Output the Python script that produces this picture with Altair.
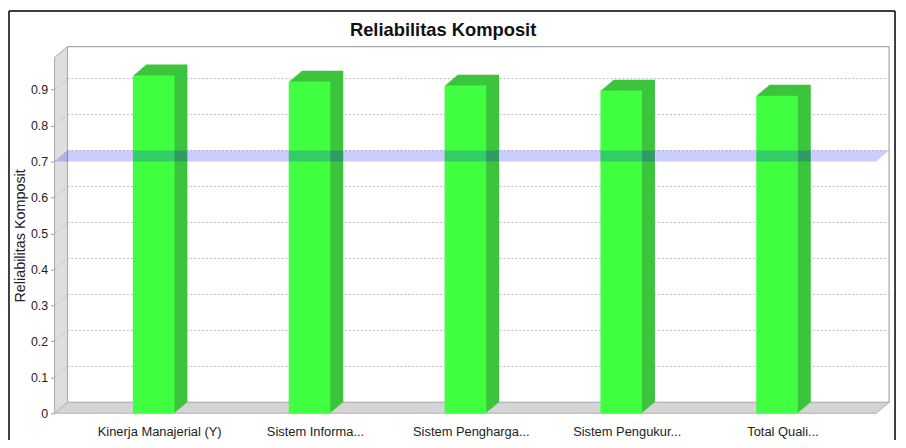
import altair as alt
import pandas as pd

# ---- data ----
categories = ["Kinerja Manajerial (Y)", "Sistem Informa...", "Sistem Pengharga...",
              "Sistem Pengukur...", "Total Quali..."]
values = [0.939, 0.922, 0.911, 0.897, 0.883]
y_ticks = [0, 0.1, 0.2, 0.3, 0.4, 0.5, 0.6, 0.7, 0.8, 0.9]
grid_values = [0.1, 0.2, 0.3, 0.4, 0.5, 0.6, 0.7, 0.8, 0.9]
threshold = [0.7]
chart_title = "Reliabilitas Komposit"
y_title = "Reliabilitas Komposit"

# ---- layout / style ----
W, H = 829, 359          # front plane of the 3D plot
DX, DY = 13, 11          # 3D depth offset in pixels
Y_MAX = 0.989
FONT = "Liberation Sans"
FRONT = "#40ff40"
SIDE = "#3cc43c"

df = pd.DataFrame({"name": categories, "value": values})
grid_df = pd.DataFrame({"value": grid_values})
thr_df = pd.DataFrame({"value": threshold})
one = pd.DataFrame({"k": [0]})

y_scale = alt.Scale(domain=[0, Y_MAX], nice=False, zero=True)
x_scale = alt.Scale(paddingInner=0.733, paddingOuter=0.5025)

x_axis = alt.Axis(title=None, labelAngle=0, labelOffset=6, ticks=False, tickSize=0,
                  domain=False, labelPadding=12, labelFont=FONT, labelFontSize=13,
                  labelColor="#222222")
y_axis = alt.Axis(title=y_title, values=y_ticks, format="~g", grid=False, domain=False,
                  tickSize=4, tickColor="#999999", labelPadding=3, labelFont=FONT,
                  labelFontSize=12.5, labelColor="#222222", titleFont=FONT,
                  titleFontSize=14.5, titleFontWeight="normal", titleColor="#222222",
                  titlePadding=3)


def X():
    return alt.X("name:N", sort=None, scale=x_scale, axis=x_axis)


def Y(field="value:Q"):
    return alt.Y(field, scale=y_scale, axis=y_axis)


def poly(points, fill, stroke=None, sw=1.0, opacity=1.0, data=None):
    xs = [p[0] for p in points]
    ys = [p[1] for p in points]
    cx = (min(xs) + max(xs)) / 2
    cy = (min(ys) + max(ys)) / 2
    half = max(max(xs) - min(xs), max(ys) - min(ys)) / 2
    path = "M" + " L".join(f"{(x - cx) / half:.5f},{(y - cy) / half:.5f}" for x, y in points) + " Z"
    props = dict(shape=path, size=(2 * half) ** 2, filled=True, fill=fill,
                 opacity=opacity, strokeWidth=sw if stroke else 0)
    if stroke:
        props["stroke"] = stroke
    if data is None:
        return alt.Chart(one).mark_point(**props).encode(x=alt.value(cx), y=alt.value(cy))
    props["yOffset"] = cy
    return alt.Chart(data).mark_point(**props).encode(x=alt.value(cx), y=Y())


layers = []
# back wall
layers.append(poly([(DX, -DY), (W + DX, -DY), (W + DX, H - DY), (DX, H - DY)],
                   "#ffffff", stroke="#a8a8a8", sw=1.2))
# left wall
layers.append(poly([(0, 0), (DX, -DY), (DX, H - DY), (0, H)],
                   "#dedede", stroke="#a8a8a8", sw=1))
# floor
layers.append(poly([(0, H), (DX, H - DY), (W + DX, H - DY), (W, H)],
                   "#d4d4d4", stroke="#b4b4b4", sw=1))

# dotted gridlines on back wall
layers.append(alt.Chart(grid_df).mark_rule(strokeDash=[2, 2], color="#b8b8b8", strokeWidth=1,
                                            yOffset=-DY).encode(
    x=alt.value(DX), x2=alt.value(W + DX), y=Y()))
# diagonal grid on left wall
layers.append(alt.Chart(grid_df).mark_rule(strokeDash=[2, 2], color="#b8b8b8", strokeWidth=1,
                                            y2Offset=-DY).encode(
    x=alt.value(0), x2=alt.value(DX), y=Y(), y2="value:Q"))

# bar depth (side + top) as staircase of offset bars
for k in range(1, DX + 1):
    d = k * DY / DX
    layers.append(alt.Chart(df).mark_bar(color=SIDE, xOffset=k, x2Offset=k, yOffset=-d,
                                         y2Offset=-d).encode(x=X(), y=Y()))

# bar fronts
layers.append(alt.Chart(df).mark_bar(color=FRONT).encode(x=X(), y=Y()))

# threshold band at 0.7 (translucent plane)
layers.append(poly([(0, 0), (DX, -DY), (W + DX, -DY), (W, 0)], "#0000ff", opacity=0.2,
                   data=thr_df))

# chart title
layers.append(alt.Chart(one).mark_text(text=chart_title, font=FONT, fontSize=18.5, fontWeight="bold",
                                       color="#111111", baseline="middle", align="center").encode(
    x=alt.value(392), y=alt.value(-28)))

# outer frame
layers.append(alt.Chart(one).mark_rule(color="#000000", strokeWidth=1.5).encode(
    x=alt.value(-46), x2=alt.value(848), y=alt.value(-47)))
layers.append(alt.Chart(one).mark_rule(color="#000000", strokeWidth=1.5).encode(
    x=alt.value(-46), y=alt.value(-47), y2=alt.value(H + 40)))
layers.append(alt.Chart(one).mark_rule(color="#000000", strokeWidth=1.5).encode(
    x=alt.value(848), y=alt.value(-47), y2=alt.value(H + 40)))

chart = alt.layer(*layers).properties(
    width=W, height=H,
    padding={"left": 47, "top": 48, "right": 22, "bottom": 25},
    autosize=alt.AutoSizeParams(type="none"),
).configure_view(stroke=None)

chart.save("out.html", embed_options={"renderer": "svg", "actions": False})
